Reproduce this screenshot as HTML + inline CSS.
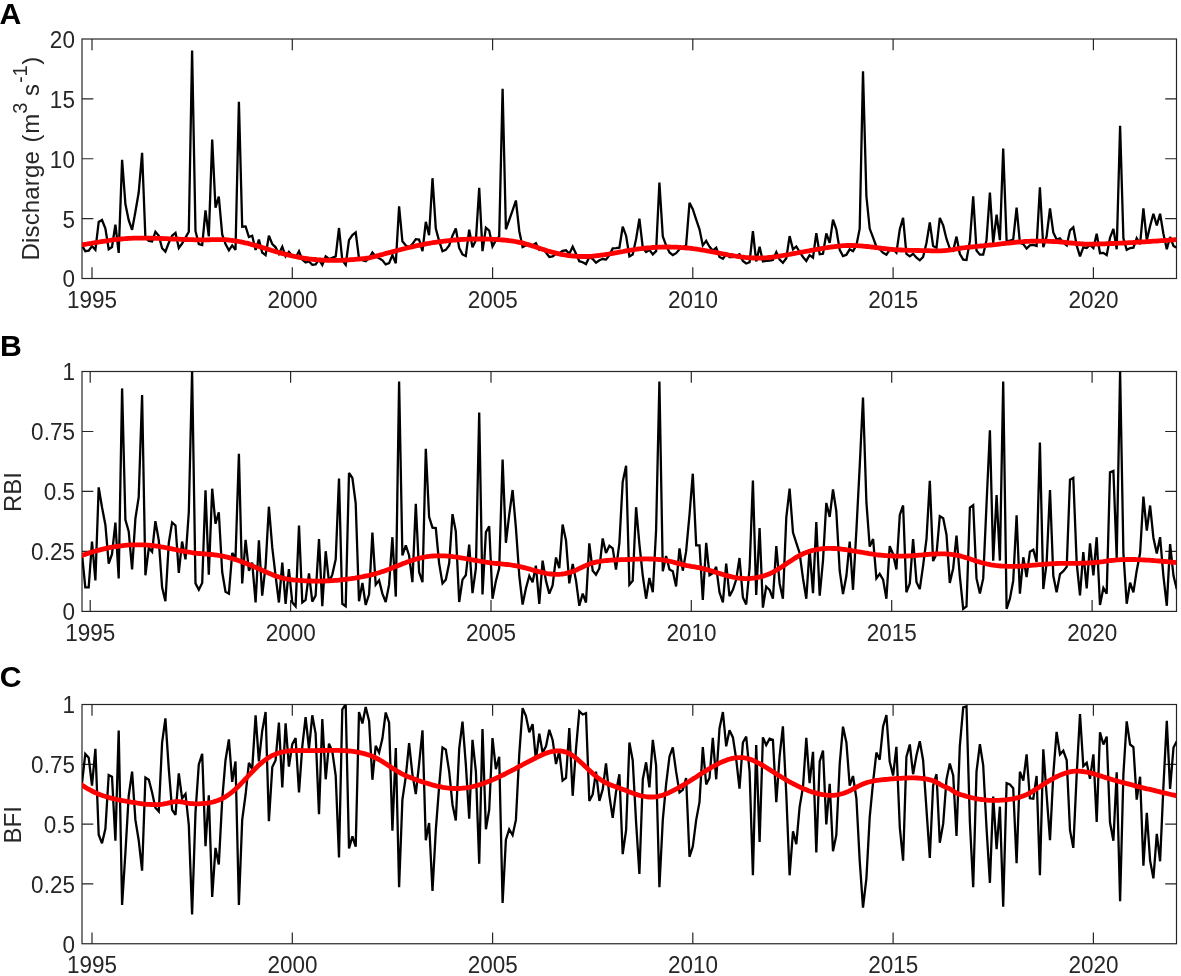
<!DOCTYPE html>
<html lang="en"><head><meta charset="utf-8"><title>Discharge, RBI and BFI time series</title>
<style>html,body{margin:0;padding:0;background:#fff}svg{display:block}text{font-family:"Liberation Sans",sans-serif;fill:#262626}.tk{font-size:22.5px}.yl{font-size:24px}.sp{font-size:20px}.pl{font-size:30.2px;font-weight:bold;fill:#000}.ax{stroke:#262626;stroke-width:1.2;fill:none}.bl{stroke:#000;stroke-width:2.3;fill:none;stroke-linejoin:miter;stroke-miterlimit:3}.rd{stroke:#ff0000;stroke-width:4.8;fill:none;stroke-linejoin:round}</style></head><body>
<svg width="1181" height="976" viewBox="0 0 1181 976">
<rect width="1181" height="976" fill="#fff"/>
<defs>
<clipPath id="cA"><rect x="82.0" y="39.0" width="1094.5" height="239.50"/></clipPath>
<clipPath id="cB"><rect x="82.0" y="371.5" width="1094.5" height="239.90"/></clipPath>
<clipPath id="cC"><rect x="82.0" y="704.5" width="1094.5" height="239.25"/></clipPath>
</defs>
<g id="panelA">
<path class="ax" d="M92.0,278.5v-11.3M92.0,39.0v11.3M292.3,278.5v-11.3M292.3,39.0v11.3M492.6,278.5v-11.3M492.6,39.0v11.3M692.8,278.5v-11.3M692.8,39.0v11.3M893.1,278.5v-11.3M893.1,39.0v11.3M1093.4,278.5v-11.3M1093.4,39.0v11.3M82.0,218.62h11.3M1176.5,218.62h-11.3M82.0,158.75h11.3M1176.5,158.75h-11.3M82.0,98.88h11.3M1176.5,98.88h-11.3"/>
<rect class="ax" x="82.0" y="39.0" width="1094.5" height="239.50"/>
<g clip-path="url(#cA)"><polyline class="bl" points="82.0,245.4 85.3,251.2 88.7,250.6 92.0,246.0 95.4,249.9 98.7,221.9 102.0,220.0 105.4,228.6 108.7,249.3 112.0,247.0 115.4,224.7 118.7,252.9 122.1,159.9 125.4,204.1 128.7,220.2 132.1,229.9 135.4,211.8 138.7,192.5 142.1,152.8 145.4,237.7 148.8,240.9 152.1,241.5 155.4,231.8 158.8,235.7 162.1,248.2 165.4,251.6 168.8,242.8 172.1,235.7 175.5,232.9 178.8,248.0 182.1,243.5 185.5,237.7 188.8,231.8 192.1,50.4 195.5,231.2 198.8,244.1 202.2,245.0 205.5,210.3 208.8,236.4 212.2,139.6 215.5,207.7 218.8,196.6 222.2,234.4 225.5,244.1 228.9,250.3 232.2,245.4 235.5,249.9 238.9,101.9 242.2,226.7 245.6,226.4 248.9,237.0 252.2,235.7 255.6,249.9 258.9,239.6 262.2,252.5 265.6,255.1 268.9,235.7 272.3,244.1 275.6,247.3 278.9,253.8 282.3,246.7 285.6,256.4 288.9,251.9 292.3,255.7 295.6,257.7 299.0,251.2 302.3,259.6 305.6,262.5 309.0,261.5 312.3,264.8 315.6,264.5 319.0,259.6 322.3,265.0 325.7,256.4 329.0,259.0 332.3,257.7 335.7,256.4 339.0,228.0 342.3,260.3 345.7,264.8 349.0,240.2 352.4,235.1 355.7,232.5 359.0,258.3 362.4,260.3 365.7,261.2 369.1,258.3 372.4,252.5 375.7,256.4 379.1,258.3 382.4,260.3 385.7,264.4 389.1,263.2 392.4,255.1 395.8,263.2 399.1,206.3 402.4,241.3 405.8,245.4 409.1,247.3 412.4,244.1 415.8,239.2 419.1,239.6 422.5,251.2 425.8,221.9 429.1,235.1 432.5,178.2 435.8,228.6 439.1,240.9 442.5,251.2 445.8,249.9 449.2,245.4 452.5,235.7 455.8,228.4 459.2,248.0 462.5,254.4 465.8,256.1 469.2,229.6 472.5,247.3 475.9,240.2 479.2,187.9 482.5,251.2 485.9,227.7 489.2,230.6 492.5,246.4 495.9,240.2 499.2,236.4 502.6,88.7 505.9,229.3 509.2,220.0 512.6,210.3 515.9,200.5 519.3,231.2 522.6,247.0 525.9,245.4 529.3,244.1 532.6,245.4 535.9,243.1 539.3,249.9 542.6,249.3 546.0,252.5 549.3,257.0 552.6,256.4 556.0,253.8 559.3,253.2 562.6,250.8 566.0,250.3 569.3,253.8 572.7,246.7 576.0,253.8 579.3,261.2 582.7,262.2 586.0,264.1 589.3,257.0 592.7,259.0 596.0,262.8 599.4,260.3 602.7,259.0 606.0,259.6 609.4,255.1 612.7,248.4 616.0,248.2 619.4,247.7 622.7,226.7 626.1,235.7 629.4,256.4 632.7,254.4 636.1,238.9 639.4,218.7 642.8,248.0 646.1,251.9 649.4,249.9 652.8,254.4 656.1,251.2 659.4,182.5 662.8,236.4 666.1,245.4 669.5,252.5 672.8,255.1 676.1,253.2 679.5,249.3 682.8,247.3 686.1,245.4 689.5,202.8 692.8,209.2 696.2,219.6 699.5,229.3 702.8,245.4 706.2,240.9 709.5,246.7 712.8,250.6 716.2,247.7 719.5,257.0 722.9,258.7 726.2,254.4 729.5,257.0 732.9,257.0 736.2,255.7 739.5,254.2 742.9,260.9 746.2,263.5 749.6,262.2 752.9,231.2 756.2,261.5 759.6,246.7 762.9,261.5 766.2,260.9 769.6,260.5 772.9,259.9 776.3,252.1 779.6,259.6 782.9,262.8 786.3,258.3 789.6,236.1 793.0,249.3 796.3,246.4 799.6,251.9 803.0,257.0 806.3,260.9 809.6,255.1 813.0,257.7 816.3,233.1 819.7,254.2 823.0,253.8 826.3,233.5 829.7,242.8 833.0,219.6 836.3,229.3 839.7,249.9 843.0,256.0 846.4,254.7 849.7,249.3 853.0,251.2 856.4,245.4 859.7,228.6 863.0,71.3 866.4,196.3 869.7,228.6 873.1,237.7 876.4,246.7 879.7,249.3 883.1,252.8 886.4,254.7 889.7,249.9 893.1,249.3 896.4,252.8 899.8,229.3 903.1,217.9 906.4,253.8 909.8,256.4 913.1,253.8 916.5,257.7 919.8,260.3 923.1,257.0 926.5,242.8 929.8,222.4 933.1,246.0 936.5,247.7 939.8,217.9 943.2,225.4 946.5,238.9 949.8,248.6 953.2,250.6 956.5,236.6 959.8,253.8 963.2,259.6 966.5,259.9 969.9,240.9 973.2,196.3 976.5,250.6 979.9,254.7 983.2,254.7 986.5,240.2 989.9,192.5 993.2,242.8 996.6,214.7 999.9,240.2 1003.2,148.6 1006.6,240.9 1009.9,240.6 1013.2,239.6 1016.6,207.7 1019.9,242.8 1023.3,244.1 1026.6,248.6 1029.9,245.4 1033.3,244.8 1036.6,246.0 1039.9,187.3 1043.3,247.1 1046.6,236.4 1050.0,208.3 1053.3,232.5 1056.6,239.6 1060.0,238.3 1063.3,242.8 1066.7,245.4 1070.0,230.3 1073.3,227.3 1076.7,245.4 1080.0,256.4 1083.3,247.3 1086.7,248.0 1090.0,244.8 1093.4,248.0 1096.7,233.8 1100.0,253.2 1103.4,252.9 1106.7,255.1 1110.0,237.7 1113.4,228.9 1116.7,249.3 1120.1,125.8 1123.4,238.3 1126.7,249.9 1130.1,248.0 1133.4,247.7 1136.7,238.3 1140.1,244.1 1143.4,208.3 1146.8,240.2 1150.1,226.0 1153.4,213.8 1156.8,225.4 1160.1,213.8 1163.4,233.8 1166.8,249.3 1170.1,237.0 1173.5,246.0 1176.8,247.7"/>
<polyline class="rd" points="79.0,245.2 81.0,244.9 83.0,244.6 85.0,244.3 87.0,244.0 89.0,243.7 91.0,243.4 93.0,243.0 95.0,242.7 97.0,242.4 99.0,242.0 101.0,241.7 103.0,241.4 105.0,241.1 107.0,240.8 109.0,240.5 111.0,240.2 113.0,239.9 115.0,239.6 117.0,239.4 119.0,239.2 121.0,239.0 123.0,238.8 125.0,238.7 127.0,238.5 129.0,238.4 131.0,238.3 133.0,238.2 135.0,238.2 137.0,238.1 139.0,238.1 141.0,238.1 143.0,238.1 145.0,238.1 147.0,238.1 149.0,238.1 151.0,238.2 153.0,238.2 155.0,238.3 157.0,238.3 159.0,238.4 161.0,238.5 163.0,238.6 165.0,238.6 167.0,238.7 169.0,238.8 171.0,238.9 173.0,239.0 175.0,239.1 177.0,239.2 179.0,239.2 181.0,239.3 183.0,239.4 185.0,239.5 187.0,239.5 189.0,239.6 191.0,239.7 193.0,239.7 195.0,239.8 197.0,239.8 199.0,239.8 201.0,239.8 203.0,239.8 205.0,239.8 207.0,239.8 209.0,239.8 211.0,239.7 213.0,239.7 215.0,239.7 217.0,239.6 219.0,239.6 221.0,239.6 223.0,239.7 225.0,239.7 227.0,239.9 229.0,240.0 231.0,240.3 233.0,240.5 235.0,240.8 237.0,241.1 239.0,241.5 241.0,241.9 243.0,242.3 245.0,242.8 247.0,243.2 249.0,243.7 251.0,244.3 253.0,244.8 255.0,245.4 257.0,245.9 259.0,246.5 261.0,247.1 263.0,247.7 265.0,248.3 267.0,248.9 269.0,249.5 271.0,250.2 273.0,250.8 275.0,251.4 277.0,252.0 279.0,252.5 281.0,253.1 283.0,253.7 285.0,254.2 287.0,254.7 289.0,255.2 291.0,255.7 293.0,256.1 295.0,256.5 297.0,256.9 299.0,257.3 301.0,257.7 303.0,258.0 305.0,258.3 307.0,258.6 309.0,258.9 311.0,259.1 313.0,259.3 315.0,259.5 317.0,259.7 319.0,259.8 321.0,260.0 323.0,260.1 325.0,260.2 327.0,260.3 329.0,260.3 331.0,260.4 333.0,260.4 335.0,260.4 337.0,260.4 339.0,260.3 341.0,260.3 343.0,260.2 345.0,260.1 347.0,260.0 349.0,259.9 351.0,259.7 353.0,259.6 355.0,259.4 357.0,259.2 359.0,259.0 361.0,258.8 363.0,258.6 365.0,258.4 367.0,258.1 369.0,257.8 371.0,257.4 373.0,257.0 375.0,256.5 377.0,255.9 379.0,255.4 381.0,254.8 383.0,254.3 385.0,253.7 387.0,253.2 389.0,252.7 391.0,252.1 393.0,251.6 395.0,251.1 397.0,250.5 399.0,250.0 401.0,249.5 403.0,249.0 405.0,248.5 407.0,248.0 409.0,247.5 411.0,247.1 413.0,246.6 415.0,246.2 417.0,245.7 419.0,245.3 421.0,244.9 423.0,244.5 425.0,244.1 427.0,243.7 429.0,243.4 431.0,243.0 433.0,242.7 435.0,242.4 437.0,242.1 439.0,241.8 441.0,241.5 443.0,241.3 445.0,241.0 447.0,240.8 449.0,240.6 451.0,240.4 453.0,240.2 455.0,240.0 457.0,239.8 459.0,239.7 461.0,239.5 463.0,239.4 465.0,239.3 467.0,239.2 469.0,239.1 471.0,239.1 473.0,239.0 475.0,239.0 477.0,239.0 479.0,239.0 481.0,239.0 483.0,239.0 485.0,239.0 487.0,239.1 489.0,239.1 491.0,239.2 493.0,239.3 495.0,239.4 497.0,239.5 499.0,239.7 501.0,239.8 503.0,240.0 505.0,240.2 507.0,240.4 509.0,240.7 511.0,240.9 513.0,241.2 515.0,241.5 517.0,241.9 519.0,242.3 521.0,242.7 523.0,243.2 525.0,243.7 527.0,244.3 529.0,244.9 531.0,245.5 533.0,246.1 535.0,246.8 537.0,247.4 539.0,248.1 541.0,248.7 543.0,249.4 545.0,250.0 547.0,250.7 549.0,251.3 551.0,251.9 553.0,252.4 555.0,252.9 557.0,253.4 559.0,253.9 561.0,254.3 563.0,254.7 565.0,255.0 567.0,255.3 569.0,255.6 571.0,255.8 573.0,256.0 575.0,256.2 577.0,256.3 579.0,256.4 581.0,256.5 583.0,256.5 585.0,256.5 587.0,256.5 589.0,256.4 591.0,256.3 593.0,256.1 595.0,255.9 597.0,255.7 599.0,255.5 601.0,255.2 603.0,255.0 605.0,254.7 607.0,254.3 609.0,254.0 611.0,253.7 613.0,253.3 615.0,252.9 617.0,252.6 619.0,252.2 621.0,251.8 623.0,251.5 625.0,251.1 627.0,250.7 629.0,250.4 631.0,250.1 633.0,249.8 635.0,249.5 637.0,249.2 639.0,248.9 641.0,248.7 643.0,248.4 645.0,248.2 647.0,248.0 649.0,247.8 651.0,247.7 653.0,247.5 655.0,247.4 657.0,247.3 659.0,247.2 661.0,247.1 663.0,247.1 665.0,247.0 667.0,247.0 669.0,247.0 671.0,247.1 673.0,247.1 675.0,247.2 677.0,247.2 679.0,247.3 681.0,247.5 683.0,247.6 685.0,247.8 687.0,248.0 689.0,248.2 691.0,248.4 693.0,248.7 695.0,248.9 697.0,249.2 699.0,249.5 701.0,249.9 703.0,250.2 705.0,250.5 707.0,250.9 709.0,251.2 711.0,251.6 713.0,252.0 715.0,252.3 717.0,252.7 719.0,253.1 721.0,253.5 723.0,253.9 725.0,254.2 727.0,254.6 729.0,255.0 731.0,255.3 733.0,255.7 735.0,256.0 737.0,256.3 739.0,256.6 741.0,256.9 743.0,257.1 745.0,257.4 747.0,257.6 749.0,257.7 751.0,257.9 753.0,258.0 755.0,258.0 757.0,258.1 759.0,258.1 761.0,258.0 763.0,257.9 765.0,257.8 767.0,257.7 769.0,257.5 771.0,257.3 773.0,257.0 775.0,256.8 777.0,256.5 779.0,256.2 781.0,255.9 783.0,255.5 785.0,255.2 787.0,254.8 789.0,254.5 791.0,254.1 793.0,253.7 795.0,253.3 797.0,253.0 799.0,252.6 801.0,252.2 803.0,251.9 805.0,251.5 807.0,251.1 809.0,250.8 811.0,250.4 813.0,250.0 815.0,249.7 817.0,249.3 819.0,249.0 821.0,248.6 823.0,248.3 825.0,248.0 827.0,247.7 829.0,247.3 831.0,247.0 833.0,246.8 835.0,246.5 837.0,246.3 839.0,246.1 841.0,245.9 843.0,245.7 845.0,245.6 847.0,245.5 849.0,245.5 851.0,245.5 853.0,245.5 855.0,245.6 857.0,245.7 859.0,245.8 861.0,245.9 863.0,246.1 865.0,246.3 867.0,246.5 869.0,246.7 871.0,247.0 873.0,247.2 875.0,247.5 877.0,247.7 879.0,248.0 881.0,248.2 883.0,248.5 885.0,248.7 887.0,248.9 889.0,249.1 891.0,249.3 893.0,249.5 895.0,249.6 897.0,249.7 899.0,249.9 901.0,250.0 903.0,250.1 905.0,250.1 907.0,250.2 909.0,250.3 911.0,250.3 913.0,250.4 915.0,250.4 917.0,250.5 919.0,250.5 921.0,250.6 923.0,250.6 925.0,250.6 927.0,250.7 929.0,250.7 931.0,250.8 933.0,250.8 935.0,250.9 937.0,250.9 939.0,250.9 941.0,250.8 943.0,250.7 945.0,250.6 947.0,250.4 949.0,250.2 951.0,249.9 953.0,249.6 955.0,249.2 957.0,248.9 959.0,248.6 961.0,248.2 963.0,247.9 965.0,247.7 967.0,247.4 969.0,247.2 971.0,247.0 973.0,246.8 975.0,246.6 977.0,246.4 979.0,246.2 981.0,246.0 983.0,245.8 985.0,245.6 987.0,245.4 989.0,245.2 991.0,245.0 993.0,244.8 995.0,244.6 997.0,244.4 999.0,244.1 1001.0,243.9 1003.0,243.7 1005.0,243.5 1007.0,243.2 1009.0,243.0 1011.0,242.8 1013.0,242.6 1015.0,242.4 1017.0,242.2 1019.0,242.0 1021.0,241.8 1023.0,241.7 1025.0,241.5 1027.0,241.4 1029.0,241.3 1031.0,241.2 1033.0,241.2 1035.0,241.1 1037.0,241.1 1039.0,241.1 1041.0,241.1 1043.0,241.1 1045.0,241.2 1047.0,241.2 1049.0,241.3 1051.0,241.4 1053.0,241.5 1055.0,241.6 1057.0,241.7 1059.0,241.9 1061.0,242.1 1063.0,242.2 1065.0,242.4 1067.0,242.6 1069.0,242.8 1071.0,243.0 1073.0,243.2 1075.0,243.4 1077.0,243.6 1079.0,243.7 1081.0,243.9 1083.0,244.0 1085.0,244.1 1087.0,244.1 1089.0,244.2 1091.0,244.2 1093.0,244.1 1095.0,244.1 1097.0,244.1 1099.0,244.0 1101.0,243.9 1103.0,243.9 1105.0,243.8 1107.0,243.7 1109.0,243.6 1111.0,243.5 1113.0,243.5 1115.0,243.4 1117.0,243.3 1119.0,243.2 1121.0,243.1 1123.0,243.0 1125.0,242.9 1127.0,242.8 1129.0,242.7 1131.0,242.6 1133.0,242.5 1135.0,242.3 1137.0,242.2 1139.0,242.1 1141.0,242.0 1143.0,241.9 1145.0,241.8 1147.0,241.6 1149.0,241.5 1151.0,241.4 1153.0,241.2 1155.0,241.1 1157.0,241.0 1159.0,240.8 1161.0,240.7 1163.0,240.6 1165.0,240.4 1167.0,240.3 1169.0,240.2 1171.0,240.0 1173.0,239.9 1175.0,239.7 1177.0,239.6 1179.0,239.4"/></g>
<text class="tk" transform="translate(92.1,308.1) scale(1,1.03)" text-anchor="middle">1995</text>
<text class="tk" transform="translate(292.4,308.1) scale(1,1.03)" text-anchor="middle">2000</text>
<text class="tk" transform="translate(492.7,308.1) scale(1,1.03)" text-anchor="middle">2005</text>
<text class="tk" transform="translate(692.9,308.1) scale(1,1.03)" text-anchor="middle">2010</text>
<text class="tk" transform="translate(893.2,308.1) scale(1,1.03)" text-anchor="middle">2015</text>
<text class="tk" transform="translate(1093.5,308.1) scale(1,1.03)" text-anchor="middle">2020</text>
<text class="tk" transform="translate(74.9,287.4) scale(1,1.03)" text-anchor="end">0</text>
<text class="tk" transform="translate(74.9,227.5) scale(1,1.03)" text-anchor="end">5</text>
<text class="tk" transform="translate(74.9,167.6) scale(1,1.03)" text-anchor="end">10</text>
<text class="tk" transform="translate(74.9,107.7) scale(1,1.03)" text-anchor="end">15</text>
<text class="tk" transform="translate(74.9,47.9) scale(1,1.03)" text-anchor="end">20</text>
</g>
<g id="panelB">
<path class="ax" d="M90.2,611.4v-11.3M90.2,371.5v11.3M290.6,611.4v-11.3M290.6,371.5v11.3M491.0,611.4v-11.3M491.0,371.5v11.3M691.3,611.4v-11.3M691.3,371.5v11.3M891.7,611.4v-11.3M891.7,371.5v11.3M1092.1,611.4v-11.3M1092.1,371.5v11.3M82.0,551.42h11.3M1176.5,551.42h-11.3M82.0,491.45h11.3M1176.5,491.45h-11.3M82.0,431.48h11.3M1176.5,431.48h-11.3"/>
<rect class="ax" x="82.0" y="371.5" width="1094.5" height="239.90"/>
<g clip-path="url(#cB)"><polyline class="bl" points="82.0,554.2 85.3,587.3 88.7,587.3 92.0,541.5 95.4,580.4 98.7,487.4 102.0,507.2 105.4,525.0 108.7,563.6 112.0,554.2 115.4,522.5 118.7,578.4 122.1,388.4 125.4,519.9 128.7,531.4 132.1,569.5 135.4,518.7 138.7,497.1 142.1,395.0 145.4,575.3 148.8,547.9 152.1,551.7 155.4,521.2 158.8,540.3 162.1,587.3 165.4,601.2 168.8,542.8 172.1,522.5 175.5,525.5 178.8,572.8 182.1,541.5 185.5,559.3 188.8,512.3 192.1,371.1 195.5,583.4 198.8,589.8 202.2,582.9 205.5,490.2 208.8,574.6 212.2,488.7 215.5,523.8 218.8,512.3 222.2,572.0 225.5,591.8 228.9,593.6 232.2,553.0 235.5,558.0 238.9,453.9 242.2,583.4 245.6,539.8 248.9,570.7 252.2,562.6 255.6,602.5 258.9,540.3 262.2,595.6 265.6,565.7 268.9,506.7 272.3,547.9 275.6,575.8 278.9,602.5 282.3,562.6 285.6,603.8 288.9,569.0 292.3,602.5 295.6,606.3 299.0,525.5 302.3,602.5 305.6,600.0 309.0,573.3 312.3,601.7 315.6,595.6 319.0,539.0 322.3,606.3 325.7,551.2 329.0,582.2 332.3,574.6 335.7,559.3 339.0,478.5 342.3,603.8 345.7,606.3 349.0,473.0 352.4,478.0 355.7,503.4 359.0,601.2 362.4,582.9 365.7,605.0 369.1,594.4 372.4,532.6 375.7,584.7 379.1,580.4 382.4,593.6 385.7,602.0 389.1,584.7 392.4,537.2 395.8,596.6 399.1,381.5 402.4,555.5 405.8,545.3 409.1,555.5 412.4,582.2 415.8,503.9 419.1,572.0 422.5,582.2 425.8,448.8 429.1,516.9 432.5,527.6 435.8,528.1 439.1,563.1 442.5,583.4 445.8,579.6 449.2,563.1 452.5,514.1 455.8,531.4 459.2,602.0 462.5,579.6 465.8,575.3 469.2,544.6 472.5,593.1 475.9,568.2 479.2,412.5 482.5,594.4 485.9,532.1 489.2,526.3 492.5,598.7 495.9,580.9 499.2,568.2 502.6,459.5 505.9,542.8 509.2,514.9 512.6,490.0 515.9,527.6 519.3,575.8 522.6,604.5 525.9,588.5 529.3,575.8 532.6,582.2 535.9,565.7 539.3,603.8 542.6,560.6 546.0,580.9 549.3,593.6 552.6,585.5 556.0,557.5 559.3,568.2 562.6,524.5 566.0,540.3 569.3,583.4 572.7,563.9 576.0,580.4 579.3,605.8 582.7,593.6 586.0,602.5 589.3,543.3 592.7,570.7 596.0,574.6 599.4,568.2 602.7,538.5 606.0,553.0 609.4,545.8 612.7,548.4 616.0,569.5 619.4,542.8 622.7,481.8 626.1,465.8 629.4,584.7 632.7,580.9 636.1,507.2 639.4,544.1 642.8,575.8 646.1,598.7 649.4,577.9 652.8,592.3 656.1,530.1 659.4,381.5 662.8,571.2 666.1,556.0 669.5,569.5 672.8,571.2 676.1,586.5 679.5,548.4 682.8,570.7 686.1,551.7 689.5,514.9 692.8,473.7 696.2,545.3 699.5,545.3 702.8,600.0 706.2,542.8 709.5,575.3 712.8,573.3 716.2,566.9 719.5,592.3 722.9,602.5 726.2,563.6 729.5,596.1 732.9,589.8 736.2,579.6 739.5,558.0 742.9,597.4 746.2,604.5 749.6,568.2 752.9,480.6 756.2,594.9 759.6,528.1 762.9,607.6 766.2,586.5 769.6,589.8 772.9,598.7 776.3,546.1 779.6,583.4 782.9,598.7 786.3,517.4 789.6,488.7 793.0,532.6 796.3,542.8 799.6,553.0 803.0,578.4 806.3,598.7 809.6,549.2 813.0,593.1 816.3,522.0 819.7,595.6 823.0,560.6 826.3,502.9 829.7,516.9 833.0,489.5 836.3,511.1 839.7,570.7 843.0,594.1 846.4,575.8 849.7,541.5 853.0,589.8 856.4,530.1 859.7,466.6 863.0,397.5 866.4,502.2 869.7,546.6 873.1,539.0 876.4,578.4 879.7,573.8 883.1,579.6 886.4,598.7 889.7,546.1 893.1,554.2 896.4,569.5 899.8,514.9 903.1,505.5 906.4,592.3 909.8,583.4 913.1,539.0 916.5,582.2 919.8,589.0 923.1,565.7 926.5,539.0 929.8,480.8 933.1,561.1 936.5,554.2 939.8,516.1 943.2,518.2 946.5,534.7 949.8,582.9 953.2,568.2 956.5,535.7 959.8,575.8 963.2,608.8 966.5,606.3 969.9,507.7 973.2,505.2 976.5,578.4 979.9,593.6 983.2,578.4 986.5,504.7 989.9,430.3 993.2,560.6 996.6,495.0 999.9,560.6 1003.2,381.5 1006.6,608.8 1009.9,598.7 1013.2,580.9 1016.6,515.4 1019.9,593.6 1023.3,557.3 1026.6,577.1 1029.9,551.7 1033.3,549.7 1036.6,561.9 1039.9,442.5 1043.3,589.0 1046.6,563.1 1050.0,490.0 1053.3,575.8 1056.6,592.3 1060.0,574.0 1063.3,571.2 1066.7,566.9 1070.0,479.8 1073.3,478.0 1076.7,563.1 1080.0,595.4 1083.3,552.2 1086.7,588.5 1090.0,543.3 1093.4,575.3 1096.7,537.2 1100.0,605.0 1103.4,588.0 1106.7,593.6 1110.0,472.2 1113.4,470.9 1116.7,558.0 1120.1,371.1 1123.4,553.0 1126.7,603.8 1130.1,582.7 1133.4,592.3 1136.7,570.7 1140.1,553.0 1143.4,496.6 1146.8,530.6 1150.1,505.5 1153.4,537.7 1156.8,553.5 1160.1,537.2 1163.4,575.8 1166.8,605.8 1170.1,544.1 1173.5,575.8 1176.8,589.3"/>
<polyline class="rd" points="79.0,556.4 81.0,555.8 83.0,555.1 85.0,554.4 87.0,553.7 89.0,553.0 91.0,552.4 93.0,551.8 95.0,551.2 97.0,550.6 99.0,550.1 101.0,549.6 103.0,549.1 105.0,548.6 107.0,548.2 109.0,547.7 111.0,547.3 113.0,547.0 115.0,546.7 117.0,546.3 119.0,546.1 121.0,545.8 123.0,545.6 125.0,545.4 127.0,545.2 129.0,545.1 131.0,544.9 133.0,544.9 135.0,544.8 137.0,544.8 139.0,544.8 141.0,544.8 143.0,544.9 145.0,544.9 147.0,545.1 149.0,545.2 151.0,545.4 153.0,545.6 155.0,545.9 157.0,546.1 159.0,546.4 161.0,546.8 163.0,547.1 165.0,547.5 167.0,547.9 169.0,548.3 171.0,548.7 173.0,549.1 175.0,549.5 177.0,549.9 179.0,550.4 181.0,550.8 183.0,551.2 185.0,551.5 187.0,551.9 189.0,552.2 191.0,552.5 193.0,552.8 195.0,553.1 197.0,553.3 199.0,553.5 201.0,553.7 203.0,553.9 205.0,554.0 207.0,554.2 209.0,554.4 211.0,554.5 213.0,554.7 215.0,555.0 217.0,555.2 219.0,555.5 221.0,555.9 223.0,556.2 225.0,556.7 227.0,557.1 229.0,557.6 231.0,558.2 233.0,558.8 235.0,559.4 237.0,560.0 239.0,560.7 241.0,561.4 243.0,562.2 245.0,562.9 247.0,563.7 249.0,564.5 251.0,565.4 253.0,566.2 255.0,567.1 257.0,568.0 259.0,568.8 261.0,569.7 263.0,570.6 265.0,571.5 267.0,572.4 269.0,573.3 271.0,574.1 273.0,574.9 275.0,575.7 277.0,576.4 279.0,577.0 281.0,577.6 283.0,578.2 285.0,578.6 287.0,579.0 289.0,579.3 291.0,579.6 293.0,579.9 295.0,580.1 297.0,580.2 299.0,580.4 301.0,580.6 303.0,580.7 305.0,580.8 307.0,580.9 309.0,581.0 311.0,581.0 313.0,581.1 315.0,581.1 317.0,581.1 319.0,581.1 321.0,581.1 323.0,581.0 325.0,581.0 327.0,580.9 329.0,580.8 331.0,580.7 333.0,580.6 335.0,580.4 337.0,580.3 339.0,580.1 341.0,579.9 343.0,579.7 345.0,579.5 347.0,579.2 349.0,578.9 351.0,578.7 353.0,578.4 355.0,578.1 357.0,577.7 359.0,577.4 361.0,577.0 363.0,576.7 365.0,576.2 367.0,575.8 369.0,575.4 371.0,574.9 373.0,574.4 375.0,573.9 377.0,573.3 379.0,572.7 381.0,572.0 383.0,571.4 385.0,570.7 387.0,569.9 389.0,569.2 391.0,568.4 393.0,567.6 395.0,566.8 397.0,566.0 399.0,565.2 401.0,564.4 403.0,563.6 405.0,562.9 407.0,562.1 409.0,561.4 411.0,560.7 413.0,560.0 415.0,559.4 417.0,558.8 419.0,558.3 421.0,557.8 423.0,557.4 425.0,557.0 427.0,556.7 429.0,556.4 431.0,556.2 433.0,556.0 435.0,555.9 437.0,555.8 439.0,555.8 441.0,555.8 443.0,555.8 445.0,555.9 447.0,556.1 449.0,556.2 451.0,556.4 453.0,556.7 455.0,556.9 457.0,557.2 459.0,557.5 461.0,557.8 463.0,558.2 465.0,558.5 467.0,558.9 469.0,559.2 471.0,559.6 473.0,559.9 475.0,560.3 477.0,560.7 479.0,561.0 481.0,561.4 483.0,561.7 485.0,562.0 487.0,562.3 489.0,562.6 491.0,562.9 493.0,563.1 495.0,563.3 497.0,563.5 499.0,563.7 501.0,563.9 503.0,564.1 505.0,564.3 507.0,564.5 509.0,564.7 511.0,565.0 513.0,565.3 515.0,565.6 517.0,566.0 519.0,566.4 521.0,566.8 523.0,567.3 525.0,567.8 527.0,568.4 529.0,568.9 531.0,569.5 533.0,570.1 535.0,570.6 537.0,571.2 539.0,571.7 541.0,572.2 543.0,572.7 545.0,573.1 547.0,573.5 549.0,573.8 551.0,574.0 553.0,574.2 555.0,574.3 557.0,574.4 559.0,574.3 561.0,574.2 563.0,574.0 565.0,573.7 567.0,573.2 569.0,572.7 571.0,572.1 573.0,571.4 575.0,570.6 577.0,569.7 579.0,568.7 581.0,567.7 583.0,566.8 585.0,565.9 587.0,565.0 589.0,564.2 591.0,563.5 593.0,562.9 595.0,562.4 597.0,561.9 599.0,561.5 601.0,561.2 603.0,560.9 605.0,560.7 607.0,560.5 609.0,560.3 611.0,560.1 613.0,560.0 615.0,560.0 617.0,559.9 619.0,559.8 621.0,559.7 623.0,559.7 625.0,559.6 627.0,559.5 629.0,559.5 631.0,559.4 633.0,559.3 635.0,559.2 637.0,559.1 639.0,559.1 641.0,559.0 643.0,559.0 645.0,558.9 647.0,558.9 649.0,559.0 651.0,559.0 653.0,559.1 655.0,559.2 657.0,559.3 659.0,559.5 661.0,559.7 663.0,560.0 665.0,560.3 667.0,560.7 669.0,561.1 671.0,561.5 673.0,562.0 675.0,562.6 677.0,563.1 679.0,563.7 681.0,564.2 683.0,564.7 685.0,565.2 687.0,565.6 689.0,565.9 691.0,566.3 693.0,566.6 695.0,566.9 697.0,567.3 699.0,567.7 701.0,568.1 703.0,568.6 705.0,569.1 707.0,569.6 709.0,570.2 711.0,570.8 713.0,571.4 715.0,572.1 717.0,572.7 719.0,573.3 721.0,573.9 723.0,574.5 725.0,575.1 727.0,575.7 729.0,576.2 731.0,576.7 733.0,577.1 735.0,577.5 737.0,577.9 739.0,578.1 741.0,578.4 743.0,578.5 745.0,578.6 747.0,578.6 749.0,578.6 751.0,578.4 753.0,578.2 755.0,578.0 757.0,577.6 759.0,577.2 761.0,576.7 763.0,576.2 765.0,575.5 767.0,574.8 769.0,574.0 771.0,573.1 773.0,572.1 775.0,571.0 777.0,569.8 779.0,568.6 781.0,567.4 783.0,566.0 785.0,564.7 787.0,563.4 789.0,562.0 791.0,560.7 793.0,559.4 795.0,558.1 797.0,556.9 799.0,555.8 801.0,554.8 803.0,553.8 805.0,553.0 807.0,552.2 809.0,551.5 811.0,550.9 813.0,550.3 815.0,549.9 817.0,549.5 819.0,549.1 821.0,548.9 823.0,548.7 825.0,548.5 827.0,548.4 829.0,548.4 831.0,548.4 833.0,548.5 835.0,548.5 837.0,548.7 839.0,548.8 841.0,549.0 843.0,549.3 845.0,549.5 847.0,549.8 849.0,550.1 851.0,550.4 853.0,550.8 855.0,551.1 857.0,551.5 859.0,551.8 861.0,552.2 863.0,552.5 865.0,552.9 867.0,553.2 869.0,553.6 871.0,553.9 873.0,554.2 875.0,554.5 877.0,554.8 879.0,555.0 881.0,555.2 883.0,555.4 885.0,555.6 887.0,555.7 889.0,555.8 891.0,555.9 893.0,556.0 895.0,556.1 897.0,556.1 899.0,556.1 901.0,556.1 903.0,556.1 905.0,556.1 907.0,556.0 909.0,555.9 911.0,555.8 913.0,555.7 915.0,555.5 917.0,555.4 919.0,555.2 921.0,555.1 923.0,554.9 925.0,554.7 927.0,554.5 929.0,554.4 931.0,554.2 933.0,554.1 935.0,554.0 937.0,553.9 939.0,553.8 941.0,553.8 943.0,553.8 945.0,553.9 947.0,554.0 949.0,554.1 951.0,554.3 953.0,554.6 955.0,554.9 957.0,555.3 959.0,555.7 961.0,556.2 963.0,556.8 965.0,557.4 967.0,558.0 969.0,558.6 971.0,559.3 973.0,560.0 975.0,560.6 977.0,561.3 979.0,561.9 981.0,562.5 983.0,563.0 985.0,563.6 987.0,564.0 989.0,564.4 991.0,564.8 993.0,565.1 995.0,565.4 997.0,565.6 999.0,565.8 1001.0,566.0 1003.0,566.1 1005.0,566.2 1007.0,566.3 1009.0,566.4 1011.0,566.4 1013.0,566.4 1015.0,566.3 1017.0,566.3 1019.0,566.2 1021.0,566.1 1023.0,566.0 1025.0,565.9 1027.0,565.7 1029.0,565.6 1031.0,565.4 1033.0,565.2 1035.0,565.1 1037.0,564.9 1039.0,564.7 1041.0,564.6 1043.0,564.4 1045.0,564.2 1047.0,564.1 1049.0,563.9 1051.0,563.8 1053.0,563.7 1055.0,563.6 1057.0,563.5 1059.0,563.4 1061.0,563.4 1063.0,563.3 1065.0,563.3 1067.0,563.3 1069.0,563.3 1071.0,563.3 1073.0,563.3 1075.0,563.3 1077.0,563.3 1079.0,563.3 1081.0,563.2 1083.0,563.2 1085.0,563.1 1087.0,563.1 1089.0,563.0 1091.0,562.9 1093.0,562.7 1095.0,562.5 1097.0,562.3 1099.0,562.1 1101.0,561.8 1103.0,561.6 1105.0,561.3 1107.0,561.0 1109.0,560.7 1111.0,560.5 1113.0,560.3 1115.0,560.1 1117.0,559.9 1119.0,559.8 1121.0,559.7 1123.0,559.6 1125.0,559.6 1127.0,559.5 1129.0,559.5 1131.0,559.5 1133.0,559.5 1135.0,559.5 1137.0,559.6 1139.0,559.7 1141.0,559.8 1143.0,559.8 1145.0,560.0 1147.0,560.1 1149.0,560.2 1151.0,560.4 1153.0,560.5 1155.0,560.7 1157.0,560.8 1159.0,561.0 1161.0,561.2 1163.0,561.4 1165.0,561.5 1167.0,561.7 1169.0,561.9 1171.0,562.1 1173.0,562.3 1175.0,562.4 1177.0,562.6 1179.0,562.8"/></g>
<text class="tk" transform="translate(90.3,641.0) scale(1,1.03)" text-anchor="middle">1995</text>
<text class="tk" transform="translate(290.7,641.0) scale(1,1.03)" text-anchor="middle">2000</text>
<text class="tk" transform="translate(491.1,641.0) scale(1,1.03)" text-anchor="middle">2005</text>
<text class="tk" transform="translate(691.4,641.0) scale(1,1.03)" text-anchor="middle">2010</text>
<text class="tk" transform="translate(891.8,641.0) scale(1,1.03)" text-anchor="middle">2015</text>
<text class="tk" transform="translate(1092.2,641.0) scale(1,1.03)" text-anchor="middle">2020</text>
<text class="tk" transform="translate(74.9,620.2) scale(1,1.03)" text-anchor="end">0</text>
<text class="tk" transform="translate(74.9,560.3) scale(1,1.03)" text-anchor="end">0.25</text>
<text class="tk" transform="translate(74.9,500.3) scale(1,1.03)" text-anchor="end">0.5</text>
<text class="tk" transform="translate(74.9,440.3) scale(1,1.03)" text-anchor="end">0.75</text>
<text class="tk" transform="translate(74.9,380.4) scale(1,1.03)" text-anchor="end">1</text>
</g>
<g id="panelC">
<path class="ax" d="M92.0,943.75v-11.3M92.0,704.5v11.3M292.3,943.75v-11.3M292.3,704.5v11.3M492.6,943.75v-11.3M492.6,704.5v11.3M692.8,943.75v-11.3M692.8,704.5v11.3M893.1,943.75v-11.3M893.1,704.5v11.3M1093.4,943.75v-11.3M1093.4,704.5v11.3M82.0,883.94h11.3M1176.5,883.94h-11.3M82.0,824.12h11.3M1176.5,824.12h-11.3M82.0,764.31h11.3M1176.5,764.31h-11.3"/>
<rect class="ax" x="82.0" y="704.5" width="1094.5" height="239.25"/>
<g clip-path="url(#cC)"><polyline class="bl" points="82.0,783.1 85.3,753.9 88.7,757.7 92.0,785.6 95.4,748.8 98.7,834.7 102.0,843.3 105.4,828.8 108.7,775.0 112.0,776.7 115.4,840.7 118.7,730.5 122.1,905.0 125.4,852.9 128.7,795.8 132.1,771.7 135.4,819.9 138.7,840.2 142.1,870.7 145.4,777.5 148.8,779.8 152.1,792.5 155.4,807.7 158.8,811.5 162.1,742.5 165.4,718.3 168.8,769.1 172.1,809.8 175.5,814.8 178.8,773.4 182.1,798.3 185.5,794.0 188.8,825.0 192.1,914.4 195.5,812.3 198.8,764.5 202.2,753.9 205.5,846.1 208.8,795.3 212.2,896.9 215.5,847.9 218.8,864.4 222.2,799.6 225.5,760.2 228.9,739.4 232.2,781.8 235.5,761.5 238.9,905.0 242.2,819.9 245.6,794.5 248.9,762.8 252.2,769.1 255.6,715.3 258.9,761.5 262.2,731.0 265.6,712.0 268.9,821.2 272.3,767.1 275.6,760.2 278.9,722.6 282.3,787.4 285.6,723.4 288.9,766.6 292.3,744.2 295.6,738.1 299.0,792.5 302.3,746.3 305.6,717.1 309.0,748.8 312.3,715.3 315.6,733.6 319.0,814.1 322.3,719.1 325.7,779.3 329.0,743.7 332.3,751.3 335.7,775.5 339.0,857.5 342.3,709.4 345.7,704.4 349.0,848.4 352.4,836.4 355.7,846.6 359.0,712.0 362.4,723.4 365.7,706.9 369.1,720.9 372.4,779.8 375.7,745.8 379.1,752.6 382.4,738.6 385.7,712.5 389.1,722.6 392.4,830.8 395.8,748.0 399.1,887.2 402.4,799.6 405.8,776.7 409.1,743.2 412.4,774.2 415.8,794.0 419.1,764.0 422.5,730.3 425.8,840.2 429.1,823.0 432.5,891.0 435.8,830.1 439.1,786.9 442.5,747.5 445.8,749.6 449.2,771.7 452.5,804.7 455.8,820.4 459.2,748.8 462.5,721.6 465.8,764.0 469.2,818.7 472.5,739.9 475.9,771.7 479.2,863.6 482.5,729.0 485.9,829.3 489.2,809.8 492.5,738.1 495.9,769.1 499.2,756.9 502.6,903.0 505.9,839.7 509.2,829.3 512.6,835.2 515.9,819.9 519.3,753.9 522.6,708.2 525.9,715.8 529.3,732.3 532.6,724.2 535.9,760.2 539.3,733.6 542.6,752.6 546.0,746.3 549.3,729.8 552.6,739.9 556.0,764.0 559.3,751.3 562.6,780.6 566.0,778.0 569.3,728.0 572.7,795.8 576.0,748.8 579.3,711.2 582.7,714.5 586.0,713.2 589.3,800.9 592.7,794.5 596.0,771.7 599.4,800.9 602.7,789.4 606.0,763.3 609.4,795.8 612.7,817.9 616.0,792.0 619.4,774.2 622.7,854.2 626.1,830.1 629.4,742.5 632.7,760.2 636.1,822.5 639.4,874.0 642.8,779.3 646.1,762.3 649.4,787.4 652.8,739.9 656.1,765.3 659.4,887.2 662.8,819.9 666.1,784.4 669.5,756.4 672.8,747.5 676.1,771.7 679.5,792.5 682.8,789.9 686.1,778.0 689.5,856.8 692.8,846.6 696.2,819.9 699.5,802.1 702.8,747.0 706.2,784.4 709.5,778.0 712.8,737.9 716.2,779.3 719.5,728.5 722.9,712.0 726.2,746.3 729.5,730.3 732.9,737.4 736.2,759.0 739.5,788.7 742.9,742.5 746.2,736.6 749.6,771.7 752.9,875.3 756.2,745.0 759.6,842.0 762.9,737.4 766.2,745.0 769.6,738.6 772.9,739.9 776.3,802.1 779.6,756.4 782.9,726.4 786.3,794.5 789.6,875.3 793.0,831.4 796.3,844.1 799.6,807.2 803.0,786.9 806.3,737.9 809.6,783.1 813.0,751.8 816.3,852.4 819.7,761.5 823.0,750.6 826.3,824.5 829.7,783.9 833.0,851.2 836.3,835.2 839.7,764.0 843.0,726.7 846.4,742.5 849.7,785.6 853.0,776.0 856.4,798.3 859.7,860.6 863.0,907.6 866.4,878.3 869.7,817.4 873.1,781.8 876.4,752.6 879.7,759.7 883.1,726.4 886.4,715.0 889.7,761.5 893.1,775.5 896.4,746.8 899.8,827.5 903.1,860.6 906.4,756.9 909.8,744.5 913.1,774.2 916.5,755.2 919.8,741.2 923.1,760.2 926.5,809.8 929.8,858.0 933.1,785.6 936.5,774.2 939.8,842.8 943.2,823.7 946.5,779.3 949.8,763.5 953.2,775.5 956.5,835.9 959.8,746.3 963.2,707.4 966.5,706.4 969.9,822.5 973.2,887.2 976.5,771.7 979.9,744.2 983.2,765.3 986.5,827.5 989.9,882.9 993.2,796.6 996.6,849.1 999.9,806.7 1003.2,906.8 1006.6,783.1 1009.9,784.4 1013.2,788.2 1016.6,863.1 1019.9,771.7 1023.3,780.6 1026.6,754.4 1029.9,798.3 1033.3,798.8 1036.6,776.0 1039.9,875.3 1043.3,749.3 1046.6,794.5 1050.0,840.2 1053.3,774.2 1056.6,731.8 1060.0,754.4 1063.3,750.8 1066.7,760.2 1070.0,830.1 1073.3,847.9 1076.7,774.2 1080.0,714.0 1083.3,766.1 1086.7,762.8 1090.0,778.8 1093.4,754.4 1096.7,822.0 1100.0,732.3 1103.4,744.5 1106.7,736.6 1110.0,822.5 1113.4,840.7 1116.7,772.2 1120.1,901.2 1123.4,774.2 1126.7,721.4 1130.1,744.5 1133.4,747.0 1136.7,799.6 1140.1,776.7 1143.4,865.6 1146.8,812.8 1150.1,860.6 1153.4,878.3 1156.8,833.9 1160.1,861.3 1163.4,786.9 1166.8,720.9 1170.1,788.9 1173.5,747.5 1176.8,741.2"/>
<polyline class="rd" points="79.0,783.3 81.0,784.5 83.0,785.8 85.0,787.1 87.0,788.3 89.0,789.4 91.0,790.5 93.0,791.5 95.0,792.5 97.0,793.4 99.0,794.2 101.0,795.0 103.0,795.7 105.0,796.3 107.0,797.0 109.0,797.5 111.0,798.1 113.0,798.6 115.0,799.0 117.0,799.5 119.0,799.9 121.0,800.3 123.0,800.7 125.0,801.0 127.0,801.4 129.0,801.7 131.0,802.1 133.0,802.4 135.0,802.7 137.0,803.0 139.0,803.3 141.0,803.6 143.0,803.9 145.0,804.1 147.0,804.3 149.0,804.4 151.0,804.5 153.0,804.6 155.0,804.6 157.0,804.6 159.0,804.5 161.0,804.3 163.0,804.1 165.0,803.7 167.0,803.4 169.0,802.9 171.0,802.4 173.0,802.0 175.0,801.6 177.0,801.5 179.0,801.6 181.0,801.8 183.0,802.2 185.0,802.6 187.0,803.0 189.0,803.3 191.0,803.6 193.0,803.7 195.0,803.8 197.0,803.8 199.0,803.8 201.0,803.7 203.0,803.6 205.0,803.4 207.0,803.2 209.0,802.8 211.0,802.5 213.0,802.0 215.0,801.4 217.0,800.8 219.0,800.0 221.0,799.1 223.0,798.2 225.0,797.1 227.0,795.8 229.0,794.4 231.0,792.9 233.0,791.3 235.0,789.5 237.0,787.7 239.0,785.7 241.0,783.7 243.0,781.6 245.0,779.5 247.0,777.4 249.0,775.2 251.0,773.1 253.0,771.0 255.0,769.0 257.0,767.0 259.0,765.1 261.0,763.3 263.0,761.6 265.0,760.1 267.0,758.6 269.0,757.4 271.0,756.2 273.0,755.2 275.0,754.4 277.0,753.6 279.0,752.9 281.0,752.4 283.0,751.9 285.0,751.5 287.0,751.2 289.0,751.0 291.0,750.8 293.0,750.7 295.0,750.6 297.0,750.6 299.0,750.5 301.0,750.5 303.0,750.6 305.0,750.6 307.0,750.6 309.0,750.6 311.0,750.6 313.0,750.6 315.0,750.6 317.0,750.6 319.0,750.5 321.0,750.5 323.0,750.5 325.0,750.4 327.0,750.4 329.0,750.4 331.0,750.3 333.0,750.3 335.0,750.3 337.0,750.4 339.0,750.4 341.0,750.5 343.0,750.6 345.0,750.7 347.0,750.8 349.0,751.0 351.0,751.2 353.0,751.4 355.0,751.7 357.0,752.1 359.0,752.4 361.0,752.9 363.0,753.3 365.0,753.9 367.0,754.5 369.0,755.1 371.0,755.8 373.0,756.6 375.0,757.5 377.0,758.5 379.0,759.5 381.0,760.7 383.0,761.9 385.0,763.2 387.0,764.5 389.0,765.9 391.0,767.2 393.0,768.6 395.0,769.8 397.0,771.1 399.0,772.2 401.0,773.3 403.0,774.3 405.0,775.3 407.0,776.2 409.0,777.0 411.0,777.8 413.0,778.6 415.0,779.3 417.0,780.1 419.0,780.8 421.0,781.4 423.0,782.1 425.0,782.7 427.0,783.3 429.0,783.9 431.0,784.5 433.0,785.1 435.0,785.6 437.0,786.1 439.0,786.5 441.0,786.9 443.0,787.3 445.0,787.6 447.0,787.9 449.0,788.1 451.0,788.3 453.0,788.5 455.0,788.5 457.0,788.5 459.0,788.5 461.0,788.4 463.0,788.2 465.0,788.0 467.0,787.7 469.0,787.4 471.0,787.0 473.0,786.5 475.0,786.0 477.0,785.5 479.0,784.9 481.0,784.2 483.0,783.6 485.0,782.8 487.0,782.1 489.0,781.3 491.0,780.5 493.0,779.6 495.0,778.7 497.0,777.8 499.0,776.9 501.0,775.9 503.0,775.0 505.0,774.0 507.0,772.9 509.0,771.9 511.0,770.9 513.0,769.8 515.0,768.8 517.0,767.7 519.0,766.6 521.0,765.6 523.0,764.5 525.0,763.4 527.0,762.4 529.0,761.3 531.0,760.3 533.0,759.3 535.0,758.2 537.0,757.2 539.0,756.3 541.0,755.3 543.0,754.5 545.0,753.6 547.0,752.9 549.0,752.3 551.0,751.7 553.0,751.3 555.0,751.0 557.0,750.8 559.0,750.8 561.0,751.0 563.0,751.3 565.0,751.8 567.0,752.5 569.0,753.4 571.0,754.6 573.0,755.9 575.0,757.3 577.0,758.9 579.0,760.7 581.0,762.5 583.0,764.3 585.0,766.2 587.0,768.1 589.0,770.1 591.0,771.9 593.0,773.7 595.0,775.5 597.0,777.1 599.0,778.6 601.0,779.9 603.0,781.2 605.0,782.3 607.0,783.3 609.0,784.2 611.0,785.0 613.0,785.8 615.0,786.5 617.0,787.3 619.0,788.0 621.0,788.7 623.0,789.4 625.0,790.1 627.0,790.9 629.0,791.7 631.0,792.5 633.0,793.2 635.0,794.0 637.0,794.6 639.0,795.2 641.0,795.8 643.0,796.2 645.0,796.5 647.0,796.8 649.0,797.0 651.0,797.0 653.0,797.0 655.0,796.8 657.0,796.6 659.0,796.2 661.0,795.7 663.0,795.1 665.0,794.3 667.0,793.5 669.0,792.7 671.0,791.7 673.0,790.7 675.0,789.7 677.0,788.6 679.0,787.5 681.0,786.3 683.0,785.2 685.0,783.9 687.0,782.7 689.0,781.5 691.0,780.2 693.0,778.9 695.0,777.7 697.0,776.4 699.0,775.1 701.0,773.8 703.0,772.6 705.0,771.3 707.0,770.1 709.0,768.9 711.0,767.7 713.0,766.5 715.0,765.4 717.0,764.4 719.0,763.3 721.0,762.4 723.0,761.5 725.0,760.7 727.0,759.9 729.0,759.3 731.0,758.7 733.0,758.3 735.0,757.9 737.0,757.7 739.0,757.6 741.0,757.6 743.0,757.7 745.0,758.0 747.0,758.4 749.0,759.0 751.0,759.6 753.0,760.4 755.0,761.3 757.0,762.3 759.0,763.3 761.0,764.4 763.0,765.6 765.0,766.8 767.0,768.0 769.0,769.3 771.0,770.6 773.0,771.8 775.0,773.1 777.0,774.4 779.0,775.6 781.0,776.8 783.0,778.0 785.0,779.2 787.0,780.4 789.0,781.5 791.0,782.6 793.0,783.6 795.0,784.7 797.0,785.7 799.0,786.6 801.0,787.6 803.0,788.5 805.0,789.3 807.0,790.1 809.0,790.9 811.0,791.6 813.0,792.2 815.0,792.8 817.0,793.4 819.0,793.9 821.0,794.3 823.0,794.7 825.0,795.0 827.0,795.2 829.0,795.3 831.0,795.3 833.0,795.3 835.0,795.1 837.0,794.9 839.0,794.5 841.0,794.0 843.0,793.5 845.0,792.8 847.0,792.0 849.0,791.1 851.0,790.1 853.0,789.0 855.0,788.0 857.0,786.9 859.0,785.9 861.0,784.9 863.0,784.0 865.0,783.2 867.0,782.5 869.0,782.0 871.0,781.5 873.0,781.1 875.0,780.7 877.0,780.4 879.0,780.2 881.0,779.9 883.0,779.7 885.0,779.5 887.0,779.3 889.0,779.1 891.0,778.9 893.0,778.8 895.0,778.6 897.0,778.5 899.0,778.4 901.0,778.3 903.0,778.1 905.0,778.1 907.0,778.0 909.0,777.9 911.0,777.9 913.0,777.9 915.0,777.9 917.0,778.0 919.0,778.1 921.0,778.3 923.0,778.5 925.0,778.8 927.0,779.1 929.0,779.6 931.0,780.1 933.0,780.7 935.0,781.5 937.0,782.5 939.0,783.6 941.0,784.9 943.0,786.0 945.0,786.8 947.0,787.6 949.0,788.5 951.0,789.6 953.0,790.9 955.0,792.2 957.0,793.3 959.0,794.1 961.0,794.7 963.0,795.3 965.0,795.9 967.0,796.5 969.0,797.0 971.0,797.5 973.0,798.0 975.0,798.5 977.0,798.8 979.0,799.2 981.0,799.5 983.0,799.7 985.0,800.0 987.0,800.1 989.0,800.3 991.0,800.3 993.0,800.4 995.0,800.4 997.0,800.4 999.0,800.3 1001.0,800.2 1003.0,800.1 1005.0,799.9 1007.0,799.7 1009.0,799.4 1011.0,799.1 1013.0,798.8 1015.0,798.4 1017.0,797.9 1019.0,797.4 1021.0,796.8 1023.0,796.1 1025.0,795.3 1027.0,794.4 1029.0,793.4 1031.0,792.3 1033.0,791.1 1035.0,789.8 1037.0,788.5 1039.0,787.2 1041.0,785.9 1043.0,784.7 1045.0,783.4 1047.0,782.1 1049.0,780.9 1051.0,779.7 1053.0,778.6 1055.0,777.5 1057.0,776.5 1059.0,775.6 1061.0,774.7 1063.0,773.9 1065.0,773.2 1067.0,772.6 1069.0,772.1 1071.0,771.7 1073.0,771.4 1075.0,771.2 1077.0,771.1 1079.0,771.2 1081.0,771.3 1083.0,771.5 1085.0,771.9 1087.0,772.2 1089.0,772.7 1091.0,773.2 1093.0,773.7 1095.0,774.3 1097.0,774.9 1099.0,775.5 1101.0,776.1 1103.0,776.8 1105.0,777.4 1107.0,778.0 1109.0,778.6 1111.0,779.2 1113.0,779.8 1115.0,780.3 1117.0,780.9 1119.0,781.5 1121.0,782.0 1123.0,782.6 1125.0,783.1 1127.0,783.7 1129.0,784.2 1131.0,784.7 1133.0,785.2 1135.0,785.8 1137.0,786.3 1139.0,786.8 1141.0,787.3 1143.0,787.8 1145.0,788.3 1147.0,788.8 1149.0,789.2 1151.0,789.7 1153.0,790.2 1155.0,790.7 1157.0,791.2 1159.0,791.6 1161.0,792.1 1163.0,792.6 1165.0,793.1 1167.0,793.5 1169.0,794.0 1171.0,794.5 1173.0,794.9 1175.0,795.4 1177.0,795.9 1179.0,796.3"/></g>
<text class="tk" transform="translate(92.1,973.4) scale(1,1.03)" text-anchor="middle">1995</text>
<text class="tk" transform="translate(292.4,973.4) scale(1,1.03)" text-anchor="middle">2000</text>
<text class="tk" transform="translate(492.7,973.4) scale(1,1.03)" text-anchor="middle">2005</text>
<text class="tk" transform="translate(692.9,973.4) scale(1,1.03)" text-anchor="middle">2010</text>
<text class="tk" transform="translate(893.2,973.4) scale(1,1.03)" text-anchor="middle">2015</text>
<text class="tk" transform="translate(1093.5,973.4) scale(1,1.03)" text-anchor="middle">2020</text>
<text class="tk" transform="translate(74.9,952.6) scale(1,1.03)" text-anchor="end">0</text>
<text class="tk" transform="translate(74.9,892.8) scale(1,1.03)" text-anchor="end">0.25</text>
<text class="tk" transform="translate(74.9,833.0) scale(1,1.03)" text-anchor="end">0.5</text>
<text class="tk" transform="translate(74.9,773.2) scale(1,1.03)" text-anchor="end">0.75</text>
<text class="tk" transform="translate(74.9,713.4) scale(1,1.03)" text-anchor="end">1</text>
</g>
<text class="yl" transform="translate(39.2,158.6) rotate(-90) scale(1,1.03)" text-anchor="middle"><tspan letter-spacing="0.15">Discharge</tspan> <tspan dx="1.9">(</tspan><tspan dx="0.6">m</tspan><tspan class="sp" dy="-11.4">3</tspan><tspan dy="11.4"> s</tspan><tspan class="sp" dx="1" dy="-11.4">-1</tspan><tspan dx="0.5" dy="11.4">)</tspan></text>
<text class="yl" transform="translate(21.3,492.1) rotate(-90) scale(1,1.03)" text-anchor="middle">RBI</text>
<text class="yl" transform="translate(21.3,824.8) rotate(-90) scale(1,1.03)" text-anchor="middle">BFI</text>
<text class="pl" x="-0.6" y="24.1">A</text>
<text class="pl" x="-0.1" y="355.85">B</text>
<text class="pl" x="-0.2" y="687.0">C</text>
</svg></body></html>
